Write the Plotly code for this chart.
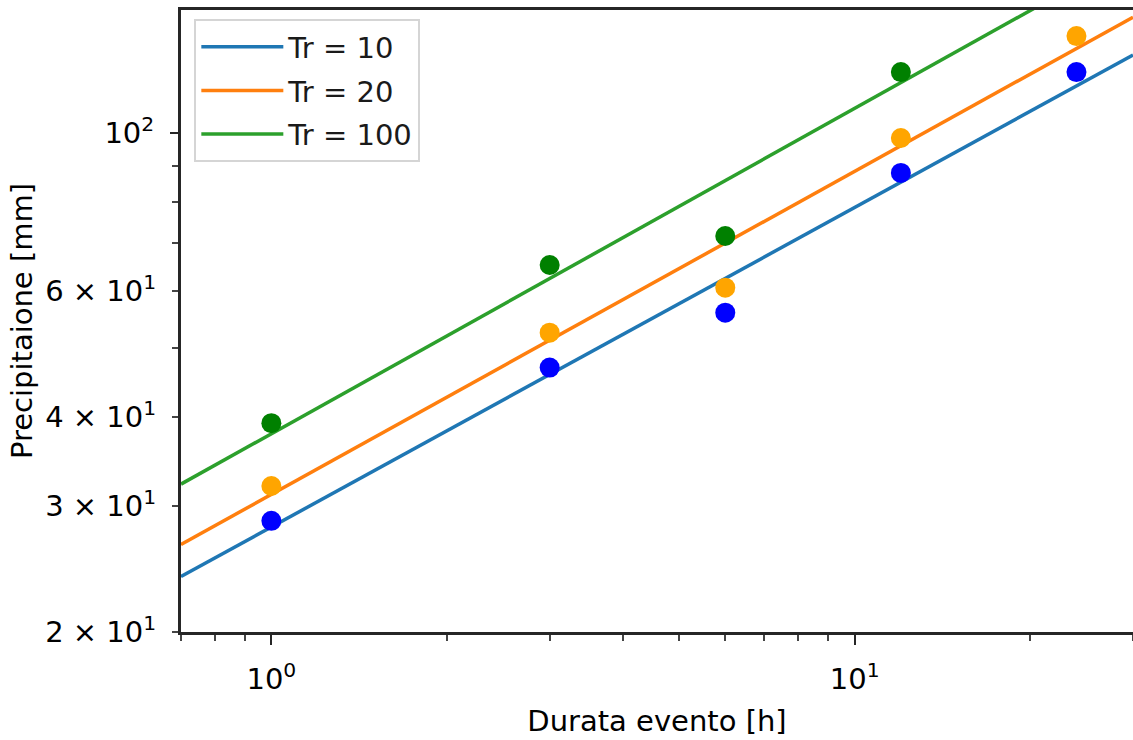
import plotly.graph_objects as go
import numpy as np

# Data
durations = [1, 3, 6, 12, 24]
p_tr10 = [28.6, 46.9, 56.0, 87.9, 121.7]
p_tr20 = [32.0, 52.5, 60.7, 98.4, 136.7]
p_tr100 = [39.2, 65.3, 71.7, 121.7, 165.0]

# fitted lines (values at the x-range ends)
line_x = [0.7, 30]
line_tr10 = [23.9, 128.6]
line_tr20 = [26.5, 145.3]
line_tr100 = [32.2, 178.6]

series_names = ["Tr = 10", "Tr = 20", "Tr = 100"]
line_colors = ["#1f77b4", "#ff7f0e", "#2ca02c"]
point_colors = ["blue", "orange", "green"]

FONT = "DejaVu Sans"
FS = 29

fig = go.Figure()
for name, ly, lc in zip(series_names, [line_tr10, line_tr20, line_tr100], line_colors):
    fig.add_trace(go.Scatter(x=line_x, y=ly, mode="lines", name=name,
                             line=dict(color=lc, width=3.5), legendgroup=name))
for py, pc in zip([p_tr10, p_tr20, p_tr100], point_colors):
    fig.add_trace(go.Scatter(x=durations, y=py, mode="markers", showlegend=False,
                             marker=dict(color=pc, size=20, line=dict(width=0))))
# invisible trace to activate overlay axis
fig.add_trace(go.Scatter(x=[1], y=[100], yaxis="y2", mode="markers",
                         marker=dict(opacity=0), showlegend=False, hoverinfo="skip"))

yr = [np.log10(19.98), np.log10(148.7)]
axcol = "#262626"
fig.update_layout(
    width=1133, height=740,
    margin=dict(l=181, r=0, t=10, b=108),
    plot_bgcolor="white", paper_bgcolor="white",
    font=dict(family=FONT, size=FS, color="black"),
    showlegend=True,
    legend=dict(x=0.014, y=0.985, xanchor="left", yanchor="top",
                bgcolor="rgba(255,255,255,0.8)", bordercolor="#d5d5d5", borderwidth=2,
                font=dict(family=FONT, size=FS, color="#1a1a1a"),
                itemwidth=82, tracegroupgap=3, traceorder="grouped"),
    xaxis=dict(type="log", range=[np.log10(0.7), np.log10(30)],
               showgrid=False, zeroline=False,
               showline=True, linecolor=axcol, linewidth=3, mirror=True,
               ticks="outside", ticklen=10, tickwidth=2, tickcolor=axcol,
               tickvals=[1, 10], ticktext=["10<sup>0</sup>", "10<sup>1</sup>"],
               ticklabelstandoff=9,
               minor=dict(tickvals=[0.7, 0.8, 0.9, 2, 3, 4, 5, 6, 7, 8, 9, 20, 30],
                          ticks="outside", ticklen=6, tickwidth=1.5, tickcolor="#444444",
                          showgrid=False),
               title=dict(text="Durata evento [h]", font=dict(size=FS, family=FONT, color="black"),
                          standoff=16)),
    yaxis=dict(type="log", range=yr,
               showgrid=False, zeroline=False,
               showline=True, linecolor=axcol, linewidth=3, mirror=False,
               ticks="outside", ticklen=6, tickwidth=1.5, tickcolor="#444444",
               tickvals=[20, 30, 40, 60],
               ticktext=["2 × 10<sup>1</sup>", "3 × 10<sup>1</sup>", "4 × 10<sup>1</sup>", "6 × 10<sup>1</sup>"],
               ticklabelstandoff=10,
               minor=dict(tickvals=[50, 70, 80, 90], ticks="outside", ticklen=6,
                          tickwidth=1.5, tickcolor="#444444", showgrid=False),
               title=dict(text="Precipitaione [mm]", font=dict(size=FS, family=FONT, color="black"),
                          standoff=5)),
    yaxis2=dict(type="log", range=yr, overlaying="y", side="left",
                showgrid=False, zeroline=False, showline=False,
                ticks="outside", ticklen=10, tickwidth=2, tickcolor=axcol,
                tickvals=[100], ticktext=["10<sup>2</sup>"], ticklabelstandoff=10),
)

fig.write_html("out.html")
